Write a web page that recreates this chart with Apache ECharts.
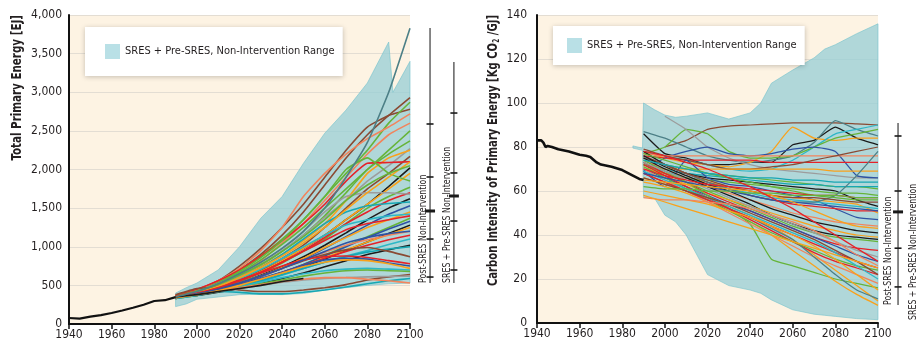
<!DOCTYPE html>
<html lang="en">
<head>
    <meta charset="UTF-8">
    <title>Primary energy and carbon intensity scenarios</title>
    <script src="https://cdn.jsdelivr.net/npm/echarts@6/dist/echarts.min.js"></script>
    <style>
        html, body { margin: 0; padding: 0; background: #fff; }
        #main { width: 918px; height: 347px; }
    </style>
</head>
<body>
<div id="main"></div>
<script>
    // ---- data ----
    var years = [1990, 2000, 2010, 2020, 2030, 2040, 2050, 2060, 2070, 2080, 2090, 2100];

    // historical totals
    var histYearsE = [1940, 1945, 1950, 1955, 1960, 1965, 1970, 1975, 1980, 1985, 1990];
    var histEnergy = [78, 70, 95, 115, 142, 175, 210, 250, 298, 308, 348];
    var histYearsC = [1940, 1942, 1943, 1944, 1945, 1947, 1950, 1955, 1960, 1963, 1965, 1968, 1970, 1975, 1980, 1985, 1988, 1990];
    var histCarbon = [83, 83, 82, 80, 80.5, 80, 79, 78, 76.5, 76, 75.5, 73, 72, 71, 69.5, 67, 65.5, 65];

    // SRES + pre-SRES range
    var bandYearsE = [1990, 1995, 2000, 2010, 2020, 2030, 2040, 2050, 2060, 2070, 2080, 2090, 2092, 2100];
    var bandHighE = [400, 470, 530, 700, 1000, 1370, 1650, 2080, 2470, 2770, 3120, 3650, 3000, 3400];
    var bandLowE = [225, 260, 320, 350, 380, 385, 380, 395, 440, 470, 500, 520, 522, 530];
    var bandYearsC = [1985, 1989.5, 1990, 1995, 2000, 2005, 2010, 2020, 2030, 2040, 2045, 2050, 2060, 2070, 2075, 2080, 2090, 2100];
    var bandHighC = [80.5, 79.5, 100, 97, 94.5, 93.5, 94, 95.5, 92.7, 95.5, 100, 109, 115, 120.5, 124.5, 126.5, 131.5, 136];
    var bandLowC = [79.5, 78.5, 57, 57, 49, 46, 40, 22, 17, 15, 13.5, 10.5, 6, 4, 3.5, 3, 2, 1.5];

    // post-SRES scenarios, total primary energy [EJ]
    var energyValues = [
        [360, 420, 530, 700, 900, 1150, 1450, 1800, 2150, 2450, 2700, 2930],
        [370, 440, 560, 750, 980, 1250, 1550, 1900, 2250, 2550, 2700, 2780],
        [350, 430, 540, 700, 880, 1100, 1350, 1650, 1950, 2250, 2600, 2870],
        [360, 440, 560, 720, 950, 1250, 1650, 1950, 2200, 2400, 2550, 2720],
        [340, 410, 500, 640, 820, 1050, 1300, 1600, 1900, 2200, 2450, 2600],
        [350, 420, 520, 660, 830, 1030, 1250, 1500, 1750, 2000, 2250, 2500],
        [340, 400, 490, 610, 760, 940, 1150, 1400, 1700, 2000, 2200, 2370],
        [350, 410, 500, 620, 770, 950, 1150, 1380, 1600, 1850, 2050, 2270],
        [340, 400, 480, 600, 740, 900, 1080, 1300, 1600, 1950, 2150, 2250],
        [350, 400, 470, 570, 700, 850, 1020, 1250, 1500, 1750, 1950, 2170],
        [370, 450, 560, 700, 880, 1080, 1300, 1550, 1850, 2080, 2090, 2100],
        [350, 400, 470, 560, 680, 820, 980, 1150, 1350, 1550, 1780, 2020],
        [330, 390, 460, 560, 680, 820, 980, 1150, 1350, 1550, 1750, 1950],
        [360, 430, 530, 680, 860, 1080, 1350, 1650, 2000, 2150, 1950, 1850],
        [340, 390, 460, 550, 660, 790, 940, 1100, 1300, 1500, 1650, 1770],
        [350, 400, 470, 560, 670, 800, 950, 1120, 1300, 1450, 1600, 1700],
        [340, 390, 450, 530, 630, 740, 870, 1020, 1180, 1350, 1500, 1620],
        [350, 420, 520, 640, 800, 980, 1200, 1450, 1650, 1700, 1700, 1680],
        [340, 400, 480, 590, 730, 900, 1100, 1300, 1450, 1530, 1560, 1580],
        [330, 380, 440, 520, 610, 720, 840, 980, 1130, 1280, 1420, 1530],
        [340, 390, 450, 530, 620, 730, 850, 990, 1120, 1250, 1350, 1450],
        [350, 410, 490, 590, 710, 850, 1000, 1150, 1280, 1350, 1400, 1420],
        [330, 370, 420, 490, 570, 660, 770, 890, 1010, 1130, 1250, 1370],
        [340, 380, 430, 500, 580, 670, 770, 880, 1000, 1120, 1230, 1330],
        [350, 390, 440, 500, 570, 650, 740, 840, 950, 1060, 1170, 1280],
        [330, 370, 420, 480, 560, 650, 750, 860, 960, 1060, 1160, 1250],
        [340, 380, 430, 500, 580, 670, 760, 850, 940, 1020, 1090, 1150],
        [340, 390, 450, 530, 620, 720, 830, 930, 1020, 1090, 1150, 1200],
        [330, 370, 420, 480, 550, 630, 720, 800, 880, 950, 1030, 1100],
        [340, 370, 410, 460, 520, 590, 660, 740, 820, 900, 960, 1020],
        [340, 380, 430, 490, 560, 640, 720, 800, 870, 930, 970, 1000],
        [350, 400, 460, 530, 620, 720, 820, 900, 960, 990, 940, 870],
        [360, 420, 490, 570, 660, 750, 830, 870, 880, 860, 820, 780],
        [340, 390, 440, 510, 590, 670, 760, 830, 850, 840, 790, 750],
        [330, 370, 420, 480, 540, 600, 650, 690, 710, 720, 710, 700],
        [340, 380, 420, 470, 520, 570, 620, 660, 690, 700, 690, 680],
        [380, 460, 470, 440, 420, 420, 440, 470, 510, 570, 610, 640],
        [330, 380, 420, 410, 390, 390, 410, 440, 480, 520, 560, 590],
        [340, 380, 420, 460, 500, 540, 570, 590, 600, 610, 615, 620],
        [340, 390, 430, 470, 510, 550, 580, 600, 600, 580, 560, 530],
        [350, 410, 490, 600, 730, 880, 1050, 1250, 1480, 1700, 1900, 2100],
        [350, 420, 510, 630, 770, 940, 1130, 1350, 1600, 1800, 1950, 2050],
        [350, 400, 470, 560, 670, 800, 940, 1080, 1220, 1300, 1350, 1400],
        [340, 390, 450, 530, 620, 720, 830, 940, 1050, 1120, 1170, 1200],
        [340, 380, 430, 500, 580, 660, 740, 800, 830, 820, 780, 720],
        [350, 380, 420, 460, 500, 550, 590, null, null, null, null, null],
        [350, 420, 520, 650, 800, 980, 1200, 1500, 1900, 2350, 3000, 3830]
    ];
    var energyColors = ['brown', 'brown', 'green', 'salmon', 'salmon', 'green', 'green', 'grey', 'orange', 'brown',
        'red', 'black', 'orange', 'green', 'green', 'red', 'black', 'grey', 'teal', 'blue',
        'orange', 'cyan', 'green', 'blue', 'black', 'orange', 'red', 'salmon', 'cyan', 'black',
        'teal', 'brown', 'red', 'blue', 'cyan', 'green', 'brown', 'teal', 'grey', 'salmon',
        'orange', 'green', 'red', 'blue', 'orange', 'black', 'slate'];

    // post-SRES scenarios, carbon intensity [kg CO2/GJ]
    var carbonValues = [
        [null, 80, 83, 88, 89.5, 90, 90.5, 91, 91, 91, 90.5, 90],
        [86, 77, 75, 72, 72, 73, 73, 81, 83, 89, 84, 81],
        [87, 84, 80, 76, 74, 73, 74, 76, 82, 92, 88, 85],
        [78, 75, 73, 72, 71, 73, 78, 89, 84, 83, 84, 84],
        [78, 76, 74, 72, 70, 69, 70, 74, 80, 86, 88, 90],
        [77, 80, 88, 86, 78, 75, 75, 76, 80, 84, 86, 88],
        [null, 94, 88, 80, 75, 72, 70, 69, 68, 67, 66, 66],
        [69, 75, 78, 80, 77, 76, 77, 79, 80, 78, 67, 66],
        [76, 75, 74, 74, 74, 74, 73, 73, 73, 73, 73, 73],
        [77, 76, 76, 76, 76, 76, 76, 76, 76, 76, 76, 76],
        [79, 76, 74, 72, 70, 70, 71, 72, 74, 76, 78, 80],
        [72, 70, 70, 70, 70, 70, 70, 70, 70, 69, 69, 69],
        [75, 72, 70, 68, 67, 66, 65, 64, 63, 62, 62, 61],
        [74, 70, 68, 67, 66, 65, 64, 63, 63, 62, 62, 62],
        [78, 72, 68, 66, 65, 64, 63, 62, 61, 60, 56, 53],
        [73, 68, 66, 65, 64, 63, 62, 61, 60, 59, 59, 58],
        [69, 62, 74, 66, 63, 62, 60, 58, 56, 52, 48, 47],
        [70, 68, 66, 64, 62, 60, 58, 57, 56, 55, 54, 50],
        [75, 72, 68, 64, 61, 58, 56, 54, 53, 52, 51, 51],
        [72, 69, 66, 63, 61, 59, 57, 56, 55, 54, 53, 52],
        [75, 72, 68, 64, 61, 58, 56, 55, 55, 58, 67, 78],
        [76, 72, 68, 65, 62, 60, 58, 57, 57, 56, 55, 55],
        [74, 70, 66, 62, 59, 56, 53, 50, 48, 46, 45, 44],
        [75, 70, 66, 62, 58, 54, 49, 45, 42, 40, 39, 38],
        [76, 71, 67, 63, 60, 56, 52, 49, 46, 44, 42, 41],
        [72, 68, 64, 60, 56, 52, 48, 44, 41, 39, 38, 37],
        [71, 67, 63, 59, 56, 53, 50, 47, 44, 42, 40, 39],
        [73, 68, 64, 59, 55, 51, 47, 43, 39, 36, 34, 33],
        [70, 66, 62, 58, 54, 51, 47, 43, 39, 35, 31, 28],
        [74, 69, 64, 58, 52, 45, 29, 26, 23, 20, 18, 16],
        [66, 63, 60, 57, 53, 49, 44, 38, 31, 24, 17, 10],
        [64, 62, 59, 55, 51, 46, 40, 33, 26, 19, 13, 8],
        [72, 67, 62, 57, 52, 47, 42, 37, 32, 28, 25, 22],
        [70, 65, 60, 55, 50, 45, 40, 35, 30, 26, 22, 18],
        [68, 64, 60, 56, 52, 48, 43, 38, 30, 22, 15, 11],
        [71, 66, 61, 56, 51, 46, 41, 37, 33, 29, 26, 24],
        [68, 64, 60, 56, 52, 48, 44, 40, 36, 32, 28, 25],
        [69, 65, 61, 57, 53, 49, 45, 41, 37, 32, 26, 20],
        [73, 69, 65, 61, 57, 53, 49, 45, 41, 37, 33, 30],
        [66, 63, 60, 57, 54, 50, 46, 42, 38, 33, 28, 22],
        [60, 58, 56, 54, 51, 48, 44, 40, 35, 29, 22, 15],
        [57, 56, 56, 55, 54, 52, 49, 46, 42, 37, 31, 26],
        [58, 55, 52, 49, 46, 43, 40, 37, 34, 31, 28, 25],
        [77, 74, 71, 68, 66, 64, 62, 60, 58, 57, 56, 56],
        [70, 67, 65, 63, 62, 61, 60, 59, 58, 58, 57, 57],
        [68, 66, 64, 62, 60, 58, 56, 55, 54, 53, 52, 51],
        [65, 64, 63, 62, 61, 60, 58, 55, 51, 47, 44, 43],
        [74, 72, 70, 68, 67, 66, 66, 65, 65, 64, 64, 64],
        [62, 61, 61, 60, 60, 59, 59, 58, 58, 58, 57, 57],
        [78, 76, 73, 70, 66, 62, 57, 52, 46, 40, 34, 28]
    ];
    var carbonColors = ['brown', 'black', 'slate', 'orange', 'cyan', 'green', 'grey', 'blue', 'red', 'salmon',
        'brown', 'orange', 'green', 'teal', 'black', 'green', 'blue', 'orange', 'red', 'cyan',
        'slate', 'brown', 'salmon', 'black', 'black', 'green', 'orange', 'red', 'blue', 'green',
        'orange', 'orange', 'red', 'salmon', 'slate', 'green', 'red', 'cyan', 'grey', 'brown',
        'orange', 'salmon', 'orange', 'green', 'red', 'blue', 'orange', 'teal', 'green', 'red'];

    // range bars beside the plots: [min, tick, tick, median, tick, tick, max]
    var postSresEnergy = [531, 608, 1100, 1463, 1903, 2589, 3832];
    var allSresEnergy = [531, 699, 1333, 1657, 1955, 2731, 3392];
    var postSresCarbon = [8.2, 16.4, 34, 50.5, 60, 85, 90.9];

    var legendName = 'SRES + Pre-SRES, Non-Intervention Range';

    // ---- styling ----
    var palette = {
        red: '#e52229', orange: '#f9a11b', green: '#66b43a', blue: '#2f53a3', brown: '#8a4a33',
        teal: '#17a7b3', cyan: '#2db7c6', grey: '#9c9c9c', black: '#1b1b1b', salmon: '#f2845c', slate: '#4c7f86'
    };
    var font = '"DejaVu Sans Condensed", "Liberation Sans", sans-serif';
    var ink = '#231f20';

    var myChart = echarts.init(document.getElementById('main'));

    function pairs(xs, ys) {
        var out = [];
        for (var i = 0; i < xs.length; i++) {
            if (ys[i] != null) out.push([xs[i], ys[i]]);
        }
        return out;
    }

    function bandSeries(idx, xs, lo, hi) {
        return {
            name: legendName,
            type: 'custom',
            xAxisIndex: idx, yAxisIndex: idx,
            itemStyle: { color: '#b9e0e6' },
            data: [[xs[0], lo[0]]],
            silent: true,
            z: 1,
            renderItem: function (params, api) {
                var pts = [];
                for (var i = 0; i < xs.length; i++) pts.push(api.coord([xs[i], hi[i]]));
                for (var j = xs.length - 1; j >= 0; j--) pts.push(api.coord([xs[j], lo[j]]));
                return {
                    type: 'polygon',
                    shape: { points: pts },
                    style: { fill: 'rgba(150, 206, 213, 0.75)', stroke: 'rgba(120, 195, 205, 0.8)', lineWidth: 0.8 }
                };
            }
        };
    }

    function scenarioSeries(idx, values, colors, width) {
        return values.map(function (v, k) {
            return {
                type: 'line',
                xAxisIndex: idx, yAxisIndex: idx,
                data: pairs(years, v),
                symbol: 'none',
                smooth: 0.15,
                silent: true,
                z: 2,
                lineStyle: { color: palette[colors[k]], width: width }
            };
        });
    }

    // vertical min-max bar with percentile ticks, drawn just right of the plot
    function rangeBar(idx, x, vals) {
        return {
            type: 'custom',
            xAxisIndex: idx, yAxisIndex: idx,
            clip: false, silent: true, z: 5,
            data: [[x, vals[0]]],
            renderItem: function (params, api) {
                var lo = api.coord([x, vals[0]]);
                var hi = api.coord([x, vals[vals.length - 1]]);
                var kids = [{
                    type: 'line',
                    shape: { x1: lo[0], y1: lo[1], x2: hi[0], y2: hi[1] },
                    style: { stroke: '#3a3a3a', lineWidth: 1.2 }
                }];
                for (var i = 1; i < vals.length - 1; i++) {
                    var p = api.coord([x, vals[i]]);
                    var med = i === 3;
                    var w = med ? 10 : 7, h = med ? 3 : 1.6;
                    kids.push({
                        type: 'rect',
                        shape: { x: p[0] - w / 2, y: p[1] - h / 2, width: w, height: h },
                        style: { fill: '#1a1a1a' }
                    });
                }
                return { type: 'group', children: kids };
            }
        };
    }

    function xAxisCfg(idx) {
        return {
            type: 'value', gridIndex: idx, min: 1940, max: 2100, interval: 20,
            axisLine: { show: true, onZero: false, lineStyle: { color: '#111', width: 2 } },
            axisTick: { show: true, length: 5, lineStyle: { color: '#111', width: 1.5 } },
            axisLabel: { color: ink, fontFamily: font, fontSize: 12, margin: 5, formatter: function (v) { return String(v); } },
            splitLine: { show: false }
        };
    }

    function yAxisCfg(idx, max, step, margin, fmt) {
        return {
            type: 'value', gridIndex: idx, min: 0, max: max, interval: step,
            axisLine: { show: true, lineStyle: { color: '#111', width: 2 } },
            axisTick: { show: false },
            axisLabel: { color: ink, fontFamily: font, fontSize: 12, margin: margin, formatter: fmt },
            splitLine: { show: true, lineStyle: { color: '#e3ddd3', width: 1 } }
        };
    }

    function legendCfg(left, top, pad) {
        return {
            left: left, top: top,
            data: [legendName],
            icon: 'rect', itemWidth: 15, itemHeight: 15, itemGap: 6,
            padding: pad,
            backgroundColor: '#ffffff',
            borderWidth: 0,
            shadowBlur: 5, shadowColor: 'rgba(0,0,0,0.22)', shadowOffsetY: 1,
            selectedMode: false,
            textStyle: { color: ink, fontFamily: font, fontSize: 11 }
        };
    }

    // rotated (bottom-to-top) text, squeezed along its reading direction
    function vText(x, y, text, align, f, squeeze, extra) {
        var st = { text: text, font: f, fill: ink, align: align, verticalAlign: 'middle' };
        if (extra) st.rich = extra;
        return { type: 'text', x: x, y: y, rotation: Math.PI / 2, scaleX: squeeze, style: st, z: 10 };
    }

    var series = [];
    series.push(bandSeries(0, bandYearsE, bandLowE, bandHighE));
    series = series.concat(scenarioSeries(0, energyValues, energyColors, 1.6));
    series.push({
        type: 'line', xAxisIndex: 0, yAxisIndex: 0, symbol: 'none', silent: true, z: 3,
        data: pairs(histYearsE, histEnergy), lineStyle: { color: '#111', width: 2.2 }
    });
    series.push(rangeBar(0, 2109.4, postSresEnergy));
    series.push(rangeBar(0, 2120.6, allSresEnergy));

    series.push(bandSeries(1, bandYearsC, bandLowC, bandHighC));
    series = series.concat(scenarioSeries(1, carbonValues, carbonColors, 1.25));
    series.push({
        type: 'line', xAxisIndex: 1, yAxisIndex: 1, symbol: 'none', silent: true, z: 3,
        data: pairs(histYearsC, histCarbon), lineStyle: { color: '#111', width: 2.6 }
    });
    series.push(rangeBar(1, 2109.4, postSresCarbon));

    var labelFont = '10.5px ' + font;
    var titleFont = 'bold 14px ' + font;

    var option = {
        animation: false,
        backgroundColor: '#ffffff',
        grid: [
            { left: 69, top: 15, width: 341, height: 309, show: true, backgroundColor: '#fdf3e3', borderWidth: 0 },
            { left: 537, top: 15, width: 341, height: 308, show: true, backgroundColor: '#fdf3e3', borderWidth: 0 }
        ],
        xAxis: [xAxisCfg(0), xAxisCfg(1)],
        yAxis: [
            yAxisCfg(0, 4000, 500, 7, function (v) { return v.toLocaleString('en-US'); }),
            yAxisCfg(1, 140, 20, 10, null)
        ],
        legend: [
            legendCfg(85, 27, [17, 8, 17, 20]),
            legendCfg(553, 26, [12, 8, 12, 14])
        ],
        graphic: [
            vText(17, 15, 'Total Primary Energy [EJ]', 'right', titleFont, 0.82),
            vText(493, 15, 'Carbon Intensity of Primary Energy [Kg CO{sub|2} /GJ]', 'right', titleFont, 0.8, {
                sub: { fontFamily: font, fontSize: 8, fontWeight: 'bold', fill: ink, padding: [7, 0, 0, 0] }
            }),
            vText(423, 283, 'Post-SRES Non-Intervention', 'left', labelFont, 0.83),
            vText(447, 283, 'SRES + Pre-SRES Non-Intervention', 'left', labelFont, 0.83),
            vText(888, 305, 'Post-SRES Non-Intervention', 'left', labelFont, 0.83),
            vText(913, 320, 'SRES + Pre-SRES Non-Intervention', 'left', labelFont, 0.83)
        ],
        series: series
    };

    myChart.setOption(option);
</script>
</body>
</html>
